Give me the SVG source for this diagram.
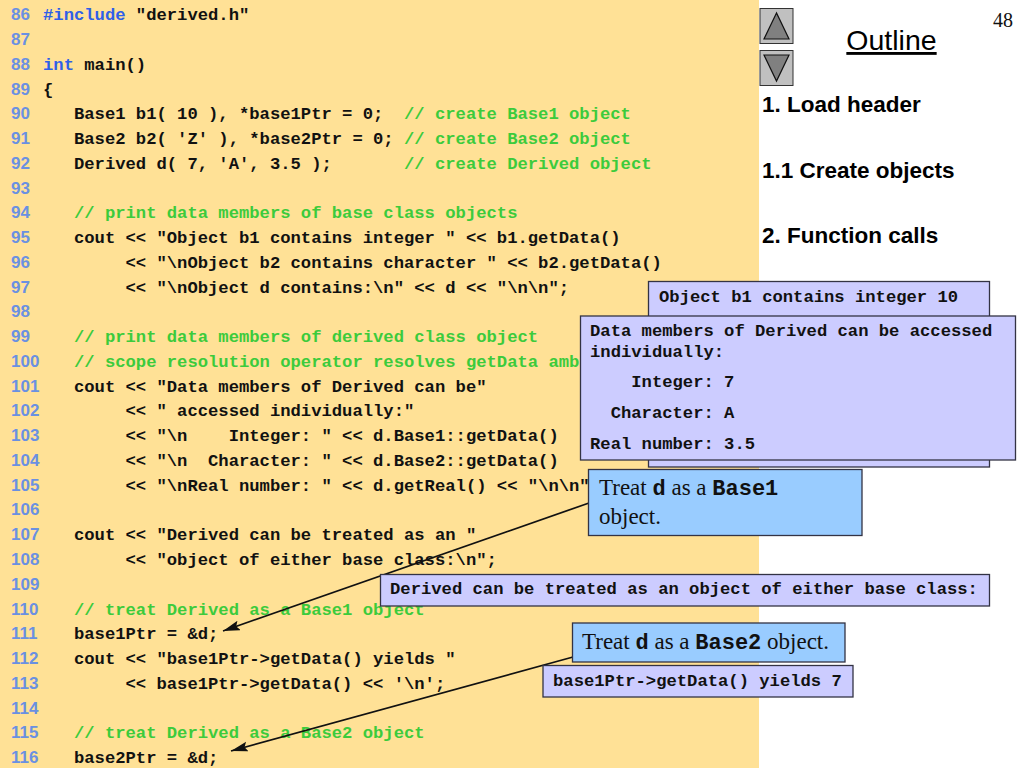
<svg xmlns="http://www.w3.org/2000/svg" width="1024" height="768" viewBox="0 0 1024 768">
<style>
text{white-space:pre}
.c{font:bold 17.2px "Liberation Mono",monospace;fill:#111}
.k{fill:#2f5fe8}
.g{fill:#3ccb3c}
.n{font:bold 17px "Liberation Sans",Arial,sans-serif;fill:#6a90e2}
.o{font:bold 22.5px "Liberation Sans",Arial,sans-serif;fill:#000}
.t{font:23px "Liberation Serif","Times New Roman",serif;fill:#111}
.m{font:bold 22px "Liberation Mono",monospace}
.b{fill:#ccf;stroke:#334;stroke-width:1.3}
.u{fill:#9cf;stroke:#334;stroke-width:1.3}
.nav{fill:#c0c0c0;stroke:#333;stroke-width:1}
.tri{fill:#808080;stroke:#111;stroke-width:1.2}
.l{stroke:#111;stroke-width:1.7;fill:none;marker-end:url(#a)}
</style>
<defs><marker id="a" markerUnits="userSpaceOnUse" markerWidth="20" markerHeight="14" refX="17" refY="5" orient="auto"><path d="M0 0L17 5L0 10L3 5Z" fill="#111"/></marker></defs>
<rect id="panel" x="0" y="0" width="759" height="768" fill="#ffe196"/>
<g id="line-numbers">
<text class="n" x="11" y="20">86</text><text class="n" x="11" y="45">87</text><text class="n" x="11" y="70">88</text><text class="n" x="11" y="95">89</text><text class="n" x="11" y="119">90</text><text class="n" x="11" y="144">91</text><text class="n" x="11" y="169">92</text><text class="n" x="11" y="194">93</text><text class="n" x="11" y="218">94</text><text class="n" x="11" y="243">95</text><text class="n" x="11" y="268">96</text><text class="n" x="11" y="293">97</text><text class="n" x="11" y="317">98</text><text class="n" x="11" y="342">99</text><text class="n" x="11" y="367">100</text><text class="n" x="11" y="392">101</text><text class="n" x="11" y="416">102</text><text class="n" x="11" y="441">103</text><text class="n" x="11" y="466">104</text><text class="n" x="11" y="491">105</text><text class="n" x="11" y="515">106</text><text class="n" x="11" y="540">107</text><text class="n" x="11" y="565">108</text><text class="n" x="11" y="590">109</text><text class="n" x="11" y="615">110</text><text class="n" x="11" y="639">111</text><text class="n" x="11" y="664">112</text><text class="n" x="11" y="689">113</text><text class="n" x="11" y="714">114</text><text class="n" x="11" y="738">115</text><text class="n" x="11" y="763">116</text>
</g>
<g id="code">
<text class="c" x="43" y="20"><tspan class="k">#include</tspan> "derived.h"</text>
<text class="c" x="43" y="70"><tspan class="k">int</tspan> main()</text>
<text class="c" x="43" y="95">{</text>
<text class="c" x="43" y="119">   Base1 b1( 10 ), *base1Ptr = 0;  <tspan class="g">// create Base1 object</tspan></text>
<text class="c" x="43" y="144">   Base2 b2( 'Z' ), *base2Ptr = 0; <tspan class="g">// create Base2 object</tspan></text>
<text class="c" x="43" y="169">   Derived d( 7, 'A', 3.5 );       <tspan class="g">// create Derived object</tspan></text>
<text class="c g" x="43" y="218">   // print data members of base class objects</text>
<text class="c" x="43" y="243">   cout &lt;&lt; "Object b1 contains integer " &lt;&lt; b1.getData()</text>
<text class="c" x="43" y="268">        &lt;&lt; "\nObject b2 contains character " &lt;&lt; b2.getData()</text>
<text class="c" x="43" y="293">        &lt;&lt; "\nObject d contains:\n" &lt;&lt; d &lt;&lt; "\n\n";</text>
<text class="c g" x="43" y="342">   // print data members of derived class object</text>
<text class="c g" x="43" y="367">   // scope resolution operator resolves getData amb</text>
<text class="c" x="43" y="392">   cout &lt;&lt; "Data members of Derived can be"</text>
<text class="c" x="43" y="416">        &lt;&lt; " accessed individually:"</text>
<text class="c" x="43" y="441">        &lt;&lt; "\n    Integer: " &lt;&lt; d.Base1::getData()</text>
<text class="c" x="43" y="466">        &lt;&lt; "\n  Character: " &lt;&lt; d.Base2::getData()</text>
<text class="c" x="43" y="491">        &lt;&lt; "\nReal number: " &lt;&lt; d.getReal() &lt;&lt; "\n\n"</text>
<text class="c" x="43" y="540">   cout &lt;&lt; "Derived can be treated as an "</text>
<text class="c" x="43" y="565">        &lt;&lt; "object of either base class:\n";</text>
<text class="c g" x="43" y="615">   // treat Derived as a Base1 object</text>
<text class="c" x="43" y="639">   base1Ptr = &amp;d;</text>
<text class="c" x="43" y="664">   cout &lt;&lt; "base1Ptr-&gt;getData() yields "</text>
<text class="c" x="43" y="689">        &lt;&lt; base1Ptr-&gt;getData() &lt;&lt; '\n';</text>
<text class="c g" x="43" y="738">   // treat Derived as a Base2 object</text>
<text class="c" x="43" y="763">   base2Ptr = &amp;d;</text>
</g>
<g id="connectors">
<path class="l" d="M589 503L223 631"/>
<path class="l" d="M573 657L231 751"/>
</g>
<g id="nav-up"><rect class="nav" x="760" y="8.500" width="33" height="35"/><path class="tri" d="M776.500 13L764 39H789Z"/></g>
<g id="nav-down"><rect class="nav" x="760" y="50.500" width="33" height="35"/><path class="tri" d="M764 55H789L776.500 81Z"/></g>
<g id="title"><text x="891.500" y="50" text-anchor="middle" font-family="Liberation Sans, Arial, sans-serif" font-size="28.500" text-decoration="underline" fill="#000">Outline</text></g>
<g id="page-number"><text x="993" y="27" font-family="Liberation Serif, Times New Roman, serif" font-size="20" fill="#111">48</text></g>
<g id="outline-1"><text class="o" x="762" y="112">1. Load header</text></g>
<g id="outline-2"><text class="o" x="762" y="178">1.1 Create objects</text></g>
<g id="outline-3"><text class="o" x="762" y="243">2. Function calls</text></g>
<g id="output-1"><rect class="b" x="648.500" y="281.500" width="341" height="185.500"/><text class="c" x="659" y="302">Object b1 contains integer 10</text></g>
<g id="output-2"><rect class="b" x="580.500" y="316" width="435" height="144"/>
<text class="c" x="590" y="336">Data members of Derived can be accessed</text>
<text class="c" x="590" y="357">individually:</text>
<text class="c" x="590" y="387">    Integer: 7</text>
<text class="c" x="590" y="418">  Character: A</text>
<text class="c" x="590" y="449">Real number: 3.5</text></g>
<g id="note-base1"><rect class="u" x="588.500" y="469.500" width="273.500" height="66"/>
<text class="t" x="599" y="495">Treat <tspan class="m">d</tspan> as a <tspan class="m">Base1</tspan></text>
<text class="t" x="599" y="524">object.</text></g>
<g id="output-3"><rect class="b" x="380.500" y="574.500" width="609" height="31.500"/><text class="c" x="390" y="594">Derived can be treated as an object of either base class:</text></g>
<g id="note-base2"><rect class="u" x="572.500" y="623" width="272.500" height="39"/><text class="t" x="582" y="649">Treat <tspan class="m">d</tspan> as a <tspan class="m">Base2</tspan> object.</text></g>
<g id="output-4"><rect class="b" x="543" y="665.500" width="310" height="31.500"/><text class="c" x="553" y="686">base1Ptr-&gt;getData() yields 7</text></g>
</svg>
